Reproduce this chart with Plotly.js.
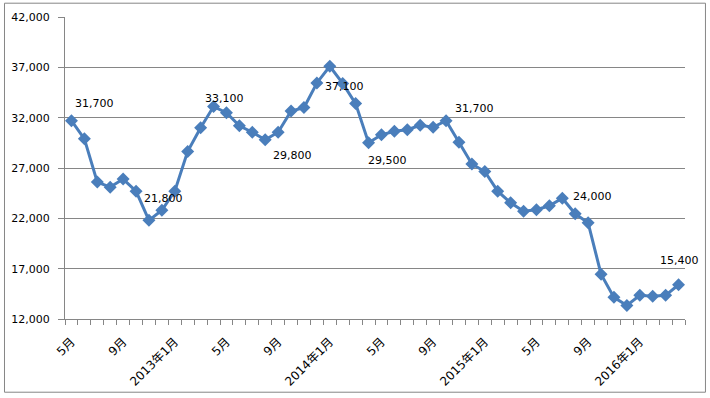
<!DOCTYPE html>
<html>
<head>
<meta charset="utf-8">
<script src="https://cdn.plot.ly/plotly-3.0.1.min.js"></script>
<style>html,body{margin:0;padding:0;background:#fff;}#chart{width:710px;height:398px;}</style>
</head>
<body>
<div id="chart"></div>
<script>
// Months from 2012年5月 to 2016年4月
const months = [
  '2012年5月','2012年6月','2012年7月','2012年8月','2012年9月','2012年10月','2012年11月','2012年12月',
  '2013年1月','2013年2月','2013年3月','2013年4月','2013年5月','2013年6月','2013年7月','2013年8月',
  '2013年9月','2013年10月','2013年11月','2013年12月','2014年1月','2014年2月','2014年3月','2014年4月',
  '2014年5月','2014年6月','2014年7月','2014年8月','2014年9月','2014年10月','2014年11月','2014年12月',
  '2015年1月','2015年2月','2015年3月','2015年4月','2015年5月','2015年6月','2015年7月','2015年8月',
  '2015年9月','2015年10月','2015年11月','2015年12月','2016年1月','2016年2月','2016年3月','2016年4月'
];
const values = [
  31700, 29900, 25600, 25100, 25900, 24700, 21800, 22800,
  24700, 28650, 31000, 33100, 32500, 31200, 30550, 29800,
  30550, 32650, 33000, 35450, 37100, 35400, 33400, 29500,
  30300, 30650, 30800, 31250, 31050, 31700, 29550, 27400,
  26650, 24700, 23550, 22700, 22850, 23250, 24000, 22450,
  21550, 16450, 14150, 13350, 14350, 14250, 14350, 15400
];
const tickIdx = [0, 4, 8, 12, 16, 20, 24, 28, 32, 36, 40, 44];
const tickLabels = ['5月','9月','2013年1月','5月','9月','2014年1月','5月','9月','2015年1月','5月','9月','2016年1月'];
const labelIdx = [0, 6, 11, 15, 20, 23, 29, 38, 47];
const labelDx = [23, 15, 11, 27, 15, 19, 28, 30, 1];
const labelDy = [17, 22, 8, -16, -20, -18, 12, 2, 24];

const xs = months.map((m, i) => i);
const font = {family: 'DejaVu Sans, "Noto Sans CJK JP", sans-serif', size: 11, color: '#000'};
const xfont = {family: 'DejaVu Sans, "Noto Sans CJK JP", sans-serif', size: 12, color: '#000'};

const trace = {
  x: xs, y: values, text: months, type: 'scatter', mode: 'lines+markers',
  line: {color: '#4A7EBB', width: 3},
  marker: {symbol: 'diamond', size: 10, color: '#4A7EBB'},
  hoverinfo: 'text+y'
};

const annotations = labelIdx.map((i, k) => ({
  x: i, y: values[i], xref: 'x', yref: 'y',
  text: values[i].toLocaleString('en-US'),
  showarrow: false, xanchor: 'center', yanchor: 'middle',
  xshift: labelDx[k], yshift: labelDy[k], font: font
}));

const layout = {
  width: 710, height: 398,
  margin: {l: 65, r: 25, t: 17, b: 79},
  paper_bgcolor: '#fff', plot_bgcolor: '#fff',
  showlegend: false,
  font: font,
  xaxis: {
    range: [-0.5, months.length - 0.5],
    tickmode: 'array', tickvals: tickIdx, ticktext: tickLabels,
    tickangle: -45, ticks: '', showgrid: false, zeroline: false,
    showline: true, linecolor: '#868686', linewidth: 1,
    ticklabelstandoff: 10,
    tickfont: xfont,
    minor: {tickmode: 'linear', tick0: -0.5, dtick: 1, ticks: 'outside', ticklen: 5, tickcolor: '#868686', showgrid: false}
  },
  yaxis: {
    range: [12000, 42000], tickmode: 'linear', tick0: 12000, dtick: 5000,
    tickformat: ',d', ticks: 'outside', ticklen: 6, tickcolor: '#868686',
    showgrid: true, gridcolor: '#868686', gridwidth: 1, zeroline: false,
    showline: true, linecolor: '#868686', linewidth: 1,
    ticklabelstandoff: 6, tickfont: font
  },
  annotations: annotations,
  shapes: [{
    type: 'rect', xref: 'paper', yref: 'paper',
    x0: -0.0976, x1: 1.033, y0: -0.2424, y1: 1.0457,
    line: {color: '#868686', width: 1}, fillcolor: 'rgba(0,0,0,0)'
  }]
};

Plotly.newPlot('chart', [trace], layout, {displayModeBar: false, staticPlot: true});
</script>
</body>
</html>
